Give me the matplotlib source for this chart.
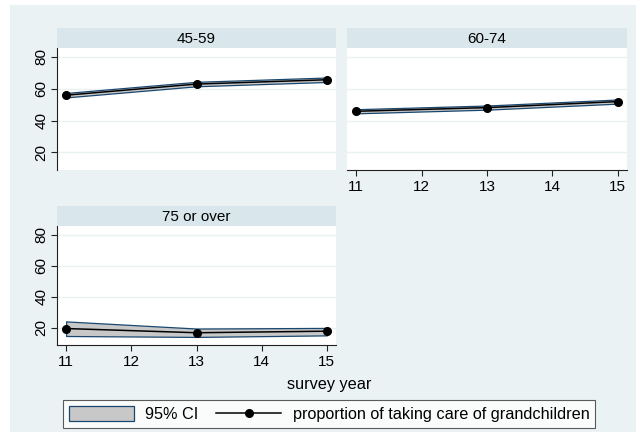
import matplotlib
matplotlib.use("Agg")
import matplotlib.pyplot as plt
from matplotlib.patches import Rectangle, Patch
from matplotlib.lines import Line2D

plt.rcParams['font.family'] = ['Liberation Sans', 'DejaVu Sans']

# Survey waves and estimated proportions (%) with 95% confidence bounds
years = [11, 13, 15]
groups = ["45-59", "60-74", "75 or over"]
prop_45_59 = [56.0, 63.0, 65.7]
lo_45_59 = [54.6, 61.6, 64.3]
hi_45_59 = [57.4, 64.4, 67.1]
prop_60_74 = [45.9, 48.2, 52.0]
lo_60_74 = [44.6, 46.9, 50.7]
hi_60_74 = [47.2, 49.5, 53.3]
prop_75 = [19.6, 16.9, 17.9]
lo_75 = [14.8, 14.2, 15.2]
hi_75 = [24.2, 19.6, 20.0]
y_ticks = [20, 40, 60, 80]
x_ticks = [11, 12, 13, 14, 15]

BG = "#EAF2F3"
STRIP = "#D9E6EB"
NAVY = "#1A476F"
FILL = "#C8C8C8"

W, H = 636, 432
fig = plt.figure(figsize=(W / 100, H / 100), dpi=100, facecolor="white")
fig.patches.append(Rectangle((10 / W, 0), 1 - 10 / W, 1 - 5 / H,
                             transform=fig.transFigure, facecolor=BG,
                             edgecolor="none", zorder=-10))


def px_axes(x0, y0, x1, y1):
    return fig.add_axes([x0 / W, 1 - y1 / H, (x1 - x0) / W, (y1 - y0) / H])


def strip(x0, y0, x1, y1, label):
    s = px_axes(x0, y0, x1, y1)
    s.set_facecolor(STRIP)
    s.set_xticks([])
    s.set_yticks([])
    for sp in s.spines.values():
        sp.set_visible(False)
    s.text(0.5, 0.47, label, ha="center", va="center", fontsize=11,
           transform=s.transAxes)


def panel(ax, prop, lo, hi, left, bottom):
    ax.set_facecolor("white")
    ax.set_xlim(10.86, 15.14)
    ax.set_ylim(9.0, 85.65)
    for t in y_ticks:
        ax.axhline(t, color=BG, lw=1.0, zorder=0)
    ax.fill_between(years, lo, hi, facecolor=FILL, edgecolor=NAVY,
                    lw=0.9, zorder=2)
    ax.plot(years, prop, color="black", lw=1.1, marker="o", ms=5.5,
            zorder=3)
    for sp in ("top", "right"):
        ax.spines[sp].set_visible(False)
    ax.spines["left"].set_visible(left)
    ax.spines["bottom"].set_visible(bottom)
    ax.spines["left"].set_color("#222222")
    ax.spines["bottom"].set_color("#222222")
    ax.set_yticks(y_ticks)
    ax.set_xticks(x_ticks)
    ax.tick_params(axis="y", length=4, width=0.8, color="#222222",
                   labelsize=11, left=left, labelleft=left, pad=2)
    ax.tick_params(axis="x", length=4, width=0.8, color="#222222",
                   labelsize=11, bottom=bottom, labelbottom=bottom, pad=3)
    if left:
        for lab in ax.get_yticklabels():
            lab.set_rotation(90)
            lab.set_va("center")


ax1 = px_axes(57, 48, 336, 170)
ax2 = px_axes(347, 48, 627, 170)
ax3 = px_axes(57, 226, 336, 345)

panel(ax1, prop_45_59, lo_45_59, hi_45_59, left=True, bottom=False)
panel(ax2, prop_60_74, lo_60_74, hi_60_74, left=False, bottom=True)
panel(ax3, prop_75, lo_75, hi_75, left=True, bottom=True)

strip(57, 28, 336, 48, groups[0])
strip(347, 28, 627, 48, groups[1])
strip(57, 206, 336, 226, groups[2])

fig.text(329 / W, 1 - 385 / H, "survey year", ha="center", va="center",
         fontsize=11.7)

handles = [
    Patch(facecolor=FILL, edgecolor=NAVY, lw=0.9),
    Line2D([], [], color="black", lw=1.1, marker="o", ms=5.5),
]
leg = fig.legend(handles, ["95% CI", "proportion of taking care of grandchildren"],
                 loc="center", bbox_to_anchor=(329 / W, 1 - 414 / H),
                 ncol=2, fontsize=11.7, frameon=True, fancybox=False,
                 handlelength=4.0, handleheight=1.0, handletextpad=0.7,
                 columnspacing=1.1, borderpad=0.35, borderaxespad=0)
leg.get_frame().set_edgecolor("#333333")
leg.get_frame().set_linewidth(0.8)

fig.savefig("out.png", dpi=100, facecolor="white")
